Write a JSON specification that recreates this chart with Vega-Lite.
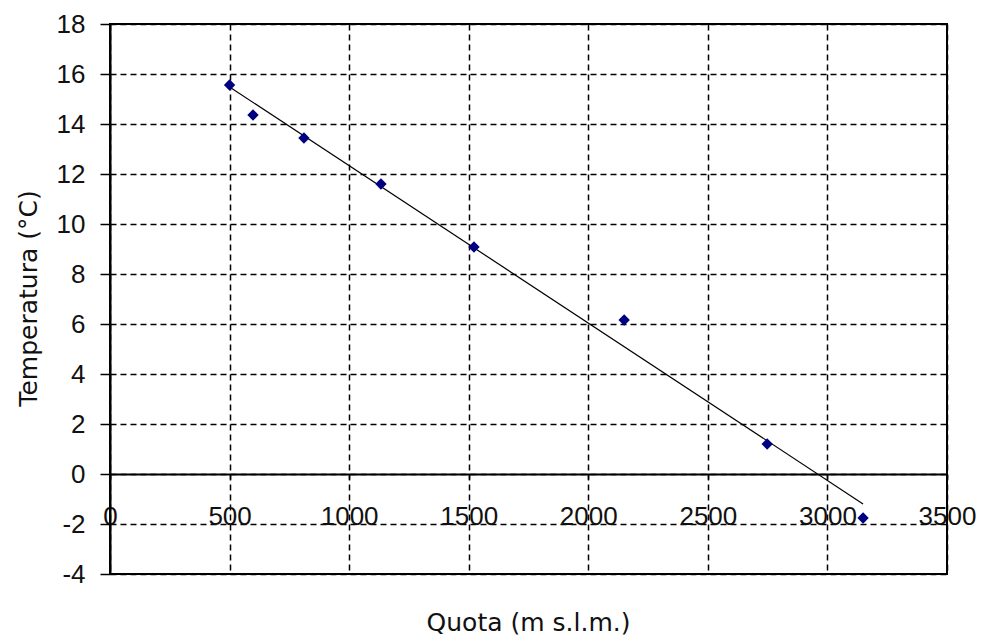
{
  "$schema": "https://vega.github.io/schema/vega-lite/v6.json",
  "width": 837,
  "height": 550,
  "autosize": {"type": "none"},
  "padding": {"left": 110, "top": 24, "right": 34, "bottom": 66},
  "background": "white",
  "config": {
    "view": {"stroke": "black", "strokeWidth": 2},
    "font": "Liberation Sans"
  },
  "data": {
    "values": [
      {"quota": 500, "temp": 15.56},
      {"quota": 598, "temp": 14.36},
      {"quota": 811, "temp": 13.44},
      {"quota": 1133, "temp": 11.6},
      {"quota": 1522, "temp": 9.08},
      {"quota": 2150, "temp": 6.16},
      {"quota": 2748, "temp": 1.2},
      {"quota": 3149, "temp": -1.76}
    ]
  },
  "encoding": {
    "x": {
      "field": "quota",
      "type": "quantitative",
      "scale": {"domain": [0, 3500], "nice": false, "zero": false},
      "axis": {
        "values": [0, 500, 1000, 1500, 2000, 2500, 3000, 3500],
        "labelExpr": "'' + datum.value",
        "offset": -100,
        "grid": true,
        "gridColor": "black",
        "gridDash": [6, 4],
        "gridWidth": 1.5,
        "gridOpacity": 1,
        "domainColor": "black",
        "domainWidth": 2,
        "tickColor": "black",
        "tickSize": 5,
        "tickWidth": 1.5,
        "labelPadding": 24,
        "labelFont": "Liberation Sans",
        "labelFontSize": 26,
        "labelColor": "#111",
        "labelFlush": false,
        "labelOverlap": false,
        "title": "Quota (m s.l.m.)",
        "titleFont": "DejaVu Sans",
        "titleFontSize": 25,
        "titleFontWeight": "normal",
        "titleColor": "#111",
        "titleX": 418,
        "titleY": 148,
        "titleAlign": "center",
        "titleBaseline": "middle"
      }
    },
    "y": {
      "field": "temp",
      "type": "quantitative",
      "scale": {"domain": [-4, 18], "nice": false, "zero": false},
      "axis": {
        "values": [-4, -2, 0, 2, 4, 6, 8, 10, 12, 14, 16, 18],
        "labelExpr": "'' + datum.value",
        "grid": true,
        "gridColor": "black",
        "gridDash": [6, 4],
        "gridWidth": 1.5,
        "gridOpacity": 1,
        "domainColor": "black",
        "domainWidth": 2,
        "tickColor": "black",
        "tickSize": 10,
        "tickWidth": 1.5,
        "labelPadding": 15,
        "labelFont": "Liberation Sans",
        "labelFontSize": 26,
        "labelColor": "#111",
        "labelFlush": false,
        "labelOverlap": false,
        "title": "Temperatura (°C)",
        "titleFont": "DejaVu Sans",
        "titleFontSize": 25,
        "titleFontWeight": "normal",
        "titleColor": "#111",
        "titleX": -82,
        "titleY": 274,
        "titleAngle": -90,
        "titleAlign": "center",
        "titleBaseline": "middle"
      }
    }
  },
  "layer": [
    {
      "transform": [{"regression": "temp", "on": "quota"}],
      "mark": {"type": "line", "color": "black", "strokeWidth": 1.2}
    },
    {
      "mark": {"type": "point", "shape": "diamond", "filled": true, "color": "#000080", "size": 130, "opacity": 1}
    }
  ]
}
